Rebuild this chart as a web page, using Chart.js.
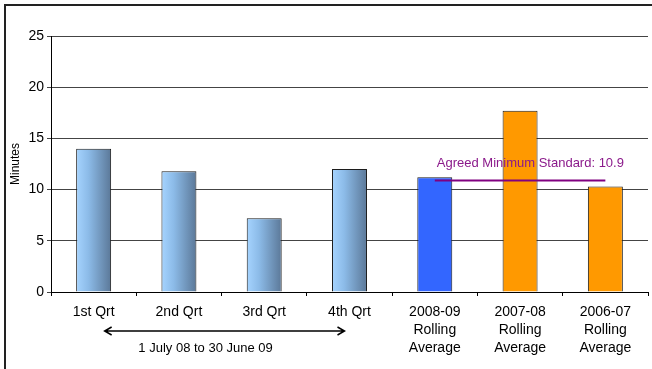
<!DOCTYPE html>
<html>
<head>
<meta charset="utf-8">
<script src="https://cdn.jsdelivr.net/npm/chart.js@4"></script>
<style>
  html, body { margin: 0; padding: 0; background: #fff; overflow: hidden; }
  #wrap { position: relative; width: 652px; height: 369px; }
  #frame { position: absolute; left: 4px; top: 4px; width: 720px; height: 420px; border: 2px solid #222; }
  #chart { position: absolute; left: 0; top: 0; }
</style>
</head>
<body>
<div id="wrap">
  <div id="frame"></div>
  <canvas id="chart" width="652" height="369"></canvas>
</div>
<script>
// Response times, quarters of 2008-09 plus rolling averages
const categories = [
  '1st Qrt', '2nd Qrt', '3rd Qrt', '4th Qrt',
  ['2008-09', 'Rolling', 'Average'],
  ['2007-08', 'Rolling', 'Average'],
  ['2006-07', 'Rolling', 'Average']
];
const minutes = [14.0, 11.8, 7.2, 12.0, 11.2, 17.7, 10.3];
const barKinds = ['qtr', 'qtr', 'qtr', 'qtr', 'current', 'past', 'past'];
const STANDARD = 10.9;
const standardLine = [null, null, null, null, STANDARD, STANDARD, STANDARD];
const yMax = 25;
const yStep = 5;
const periodNote = '1 July 08 to 30 June 09';

const FONT = "'Liberation Sans', Arial, sans-serif";
const BAR_FRACTION = 0.41;

function barFill(ctx) {
  const kind = barKinds[ctx.dataIndex];
  if (kind === 'current') return '#3366ff';
  if (kind === 'past') return '#ff9900';
  const x = ctx.chart.scales.x;
  if (!x || !x.width) return '#99ccff';
  const cx = x.getPixelForValue(ctx.dataIndex);
  const w = x.width / categories.length * BAR_FRACTION;
  const g = ctx.chart.ctx.createLinearGradient(cx - w / 2, 0, cx + w / 2, 0);
  g.addColorStop(0, '#a6d4ff');
  g.addColorStop(0.35, '#8cbbe8');
  g.addColorStop(1, '#5b7898');
  return g;
}

// standard caption + the period arrow under the quarters
const annotations = {
  id: 'annotations',
  afterDatasetsDraw(chart) {
    const { ctx, scales: { x, y }, chartArea } = chart;
    ctx.save();

    // caption above the standard line
    const lx = x.getPixelForValue(4);
    const ly = y.getPixelForValue(STANDARD);
    ctx.fillStyle = '#8b1a8b';
    ctx.font = '13px ' + FONT;
    ctx.textAlign = 'left';
    ctx.textBaseline = 'middle';
    ctx.fillText('Agreed Minimum Standard: ' + STANDARD, lx + 2, ly - 17);

    // double-headed arrow spanning the quarters
    const ay = chartArea.bottom + 39;
    const ax1 = x.getPixelForValue(0) + 11;
    const ax2 = x.getPixelForValue(3) - 5;
    ctx.strokeStyle = '#000';
    ctx.lineWidth = 1.5;
    ctx.beginPath();
    ctx.moveTo(ax1, ay);
    ctx.lineTo(ax2, ay);
    ctx.moveTo(ax1 + 7, ay - 4);
    ctx.lineTo(ax1, ay);
    ctx.lineTo(ax1 + 7, ay + 4);
    ctx.moveTo(ax2 - 7, ay - 4);
    ctx.lineTo(ax2, ay);
    ctx.lineTo(ax2 - 7, ay + 4);
    ctx.stroke();

    ctx.fillStyle = '#000';
    ctx.textAlign = 'center';
    ctx.fillText(periodNote, (ax1 + ax2) / 2 - 19, chartArea.bottom + 56);
    ctx.restore();
  }
};

new Chart(document.getElementById('chart'), {
  type: 'bar',
  data: {
    labels: categories,
    datasets: [
      {
        type: 'line',
        data: standardLine,
        borderColor: '#800080',
        borderWidth: 2,
        pointRadius: 0,
        fill: false,
        order: 0
      },
      {
        data: minutes,
        backgroundColor: barFill,
        borderColor: '#1c1c1c',
        borderWidth: 1,
        barPercentage: 1,
        categoryPercentage: BAR_FRACTION,
        order: 1
      }
    ]
  },
  options: {
    responsive: false,
    animation: false,
    layout: { padding: { top: 36, right: 4, left: 0, bottom: 0 } },
    plugins: { legend: { display: false }, tooltip: { enabled: false } },
    scales: {
      x: {
        afterFit: s => { s.height = 77; },
        grid: { drawOnChartArea: false, drawTicks: true, tickLength: 4, color: '#000' },
        border: { color: '#000', width: 1 },
        ticks: { color: '#000', padding: 7, font: { family: FONT, size: 14, lineHeight: 1.29 }, maxRotation: 0, autoSkip: false }
      },
      y: {
        min: 0,
        max: yMax,
        afterFit: s => { s.width = 51; },
        grid: { color: '#444', tickLength: 4 },
        border: { color: '#000', width: 1 },
        ticks: { stepSize: yStep, color: '#000', padding: 3, font: { family: FONT, size: 14 } },
        title: { display: true, text: 'Minutes', color: '#000', font: { family: FONT, size: 12 }, padding: { top: 8, bottom: 0 } }
      }
    }
  },
  plugins: [annotations]
});
</script>
</body>
</html>
